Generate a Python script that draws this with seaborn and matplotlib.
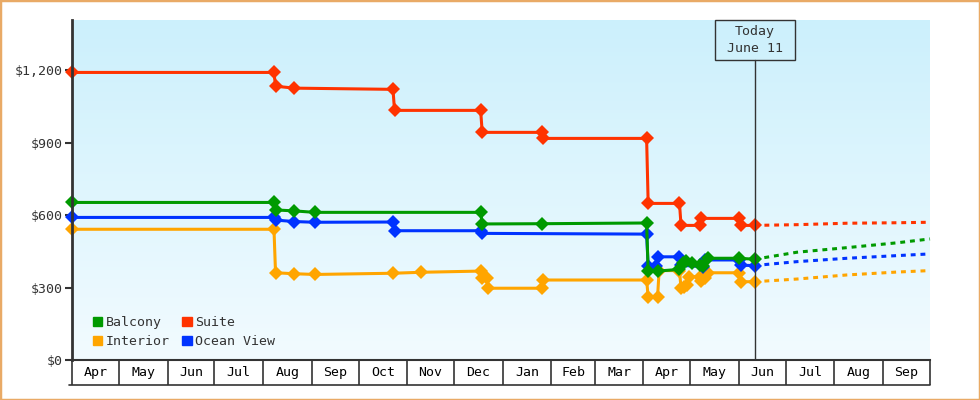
import pandas as pd
import numpy as np
import matplotlib.pyplot as plt
import matplotlib.dates as mdates
from matplotlib.patches import Patch, Rectangle
from matplotlib.colors import LinearSegmentedColormap
import seaborn as sns

sns.set_theme(style='white')
plt.rcParams['font.family'] = ['DejaVu Sans Mono', 'DejaVu Sans']

# price history per cabin
suite_dates = ['2012-04-01', '2012-08-08', '2012-08-09', '2012-08-21', '2012-10-23', '2012-10-24',
               '2012-12-18', '2012-12-19', '2013-01-26', '2013-01-27', '2013-04-03', '2013-04-04',
               '2013-04-24', '2013-04-25', '2013-05-07', '2013-05-08', '2013-06-01', '2013-06-02',
               '2013-06-11']
suite_prices = [1190, 1190, 1133, 1125, 1120, 1033, 1033, 942, 942, 917, 917, 648,
                648, 557, 557, 586, 586, 557, 557]

balcony_dates = ['2012-04-01', '2012-08-08', '2012-08-09', '2012-08-21', '2012-09-03', '2012-12-18',
                 '2012-12-19', '2013-01-26', '2013-04-03', '2013-04-04', '2013-04-10', '2013-04-24',
                 '2013-04-26', '2013-04-28', '2013-05-02', '2013-05-07', '2013-05-09', '2013-05-12',
                 '2013-06-01', '2013-06-11']
balcony_prices = [652, 652, 621, 617, 611, 611, 563, 564, 567, 368, 368, 375,
                  400, 408, 401, 395, 388, 421, 421, 417]

ocean_dates = ['2012-04-01', '2012-08-08', '2012-08-09', '2012-08-21', '2012-09-03', '2012-10-23',
               '2012-10-24', '2012-12-18', '2012-12-19', '2013-04-03', '2013-04-04', '2013-04-09',
               '2013-04-10', '2013-04-24', '2013-04-25', '2013-05-09', '2013-05-10', '2013-06-01',
               '2013-06-02', '2013-06-11']
ocean_prices = [590, 590, 579, 573, 570, 571, 535, 535, 524, 521, 388, 388,
                427, 427, 392, 386, 414, 414, 392, 391]

interior_dates = ['2012-04-01', '2012-08-08', '2012-08-09', '2012-08-21', '2012-09-03', '2012-10-23',
                  '2012-11-10', '2012-12-18', '2012-12-19', '2012-12-22', '2012-12-23', '2013-01-26',
                  '2013-01-27', '2013-04-03', '2013-04-04', '2013-04-10', '2013-04-11', '2013-04-24',
                  '2013-04-25', '2013-04-27', '2013-04-29', '2013-04-30', '2013-05-07', '2013-05-08',
                  '2013-05-10', '2013-05-12', '2013-06-01', '2013-06-02', '2013-06-11']
interior_prices = [541, 541, 361, 357, 354, 359, 363, 368, 340, 340, 297, 297,
                   331, 331, 262, 262, 370, 370, 297, 302, 310, 345, 345, 328,
                   340, 361, 361, 324, 324]

# forecast (dashed part)
forecast_dates = ['2013-06-11', '2013-07-08', '2013-08-09', '2013-09-10', '2013-10-01']
suite_forecast = [557, 560, 566, 568, 570]
balcony_forecast = [417, 446, 465, 485, 501]
ocean_forecast = [391, 407, 421, 432, 439]
interior_forecast = [324, 335, 352, 364, 370]

today = pd.Timestamp('2013-06-11')
cabins = ['Interior', 'Ocean View', 'Balcony', 'Suite']   # draw order
palette = {'Balcony': '#009a00', 'Suite': '#ff3300', 'Interior': '#ffa500', 'Ocean View': '#0033ff'}

history = pd.concat([
    pd.DataFrame({'date': pd.to_datetime(interior_dates), 'price': interior_prices, 'cabin': 'Interior'}),
    pd.DataFrame({'date': pd.to_datetime(ocean_dates), 'price': ocean_prices, 'cabin': 'Ocean View'}),
    pd.DataFrame({'date': pd.to_datetime(balcony_dates), 'price': balcony_prices, 'cabin': 'Balcony'}),
    pd.DataFrame({'date': pd.to_datetime(suite_dates), 'price': suite_prices, 'cabin': 'Suite'}),
])
forecast = pd.concat([
    pd.DataFrame({'date': pd.to_datetime(forecast_dates), 'price': p, 'cabin': c})
    for c, p in [('Interior', interior_forecast), ('Ocean View', ocean_forecast),
                 ('Balcony', balcony_forecast), ('Suite', suite_forecast)]
])

fig = plt.figure(figsize=(9.8, 4), dpi=100)
pos = [72 / 980, 40 / 400, 858 / 980, 340 / 400]

# gradient background
bg = fig.add_axes(pos, zorder=0)
cmap = LinearSegmentedColormap.from_list('sky', ['#f2fbff', '#ccf0fc'])
bg.imshow(np.linspace(1, 0, 256).reshape(-1, 1), cmap=cmap, aspect='auto', extent=[0, 1, 0, 1])
bg.axis('off')

ax = fig.add_axes(pos, zorder=1)
ax.patch.set_alpha(0)

sns.lineplot(data=forecast, x='date', y='price', hue='cabin', hue_order=cabins, palette=palette,
             estimator=None, sort=False, legend=False, linewidth=2.2,
             linestyle=(0, (1.6, 1.6)), ax=ax)
sns.lineplot(data=history, x='date', y='price', hue='cabin', hue_order=cabins, palette=palette,
             estimator=None, sort=False, legend=False, linewidth=2.2,
             marker='D', markersize=7, markeredgewidth=0, ax=ax)
for line in ax.lines:
    line.set_clip_on(False)

start, end = pd.Timestamp('2012-04-01'), pd.Timestamp('2013-10-01')
ax.set_xlim(start, end)
ax.set_ylim(0, 1407)
ax.set_xlabel('')
ax.set_ylabel('')

# y axis
ax.set_yticks([0, 300, 600, 900, 1200])
ax.yaxis.set_major_formatter(plt.FuncFormatter(lambda v, _: f'${v:,.0f}'))
ax.tick_params(axis='y', direction='out', length=5, width=1.5, color='#333333',
               labelsize=9.5, labelcolor='#333333', pad=2, left=True)
for s in ['top', 'right']:
    ax.spines[s].set_visible(False)
ax.spines['left'].set_color('#333333')
ax.spines['left'].set_linewidth(2)
ax.spines['bottom'].set_color('#333333')
ax.spines['bottom'].set_linewidth(1.5)

# month boxes under the plot
ax.set_xticks([])
box_h = 25 / 340
xt = ax.get_xaxis_transform()
bounds = pd.date_range(start, end, freq='MS')
ax.vlines(bounds, -box_h, 0, transform=xt, clip_on=False, color='#333333', lw=1.2)
ax.plot([-0.003, 1], [-box_h, -box_h], transform=ax.transAxes, clip_on=False, color='#333333', lw=1.2)
for m in bounds[:-1]:
    mid = m + pd.Timedelta(days=m.days_in_month / 2)
    ax.text(mid, -box_h / 2, m.strftime('%b'), transform=xt, ha='center', va='center',
            fontsize=9.5, color='black')

# today marker
ax.axvline(today, ymin=0, ymax=300 / 340, color='#333333', lw=1, zorder=5)
tx = mdates.date2num(today)
ax.add_patch(Rectangle((tx - 25.5, 300 / 340), 51, 40 / 340, transform=xt, fill=False,
                       ec='#333333', lw=1, clip_on=False, zorder=5))
ax.text(today, 320 / 340, 'Today\nJune 11', transform=xt, ha='center', va='center',
        fontsize=9.5, color='#333333', linespacing=1.3)

# legend with square swatches
handles = [Patch(color=palette[c], label=c) for c in ['Balcony', 'Interior', 'Suite', 'Ocean View']]
leg = ax.legend(handles=handles, ncol=2, loc='lower left', bbox_to_anchor=(0.024, 0.035),
                frameon=False, fontsize=9.5, handlelength=0.75, handleheight=0.75,
                handletextpad=0.25, columnspacing=0.9, labelspacing=0.45,
                borderaxespad=0, borderpad=0)
for t in leg.get_texts():
    t.set_color('#333333')

fig.add_artist(Rectangle((0, 0), 1, 1, transform=fig.transFigure, fill=False,
                         ec='#e9aa66', lw=2.5))

fig.savefig('out.png', dpi=100)
